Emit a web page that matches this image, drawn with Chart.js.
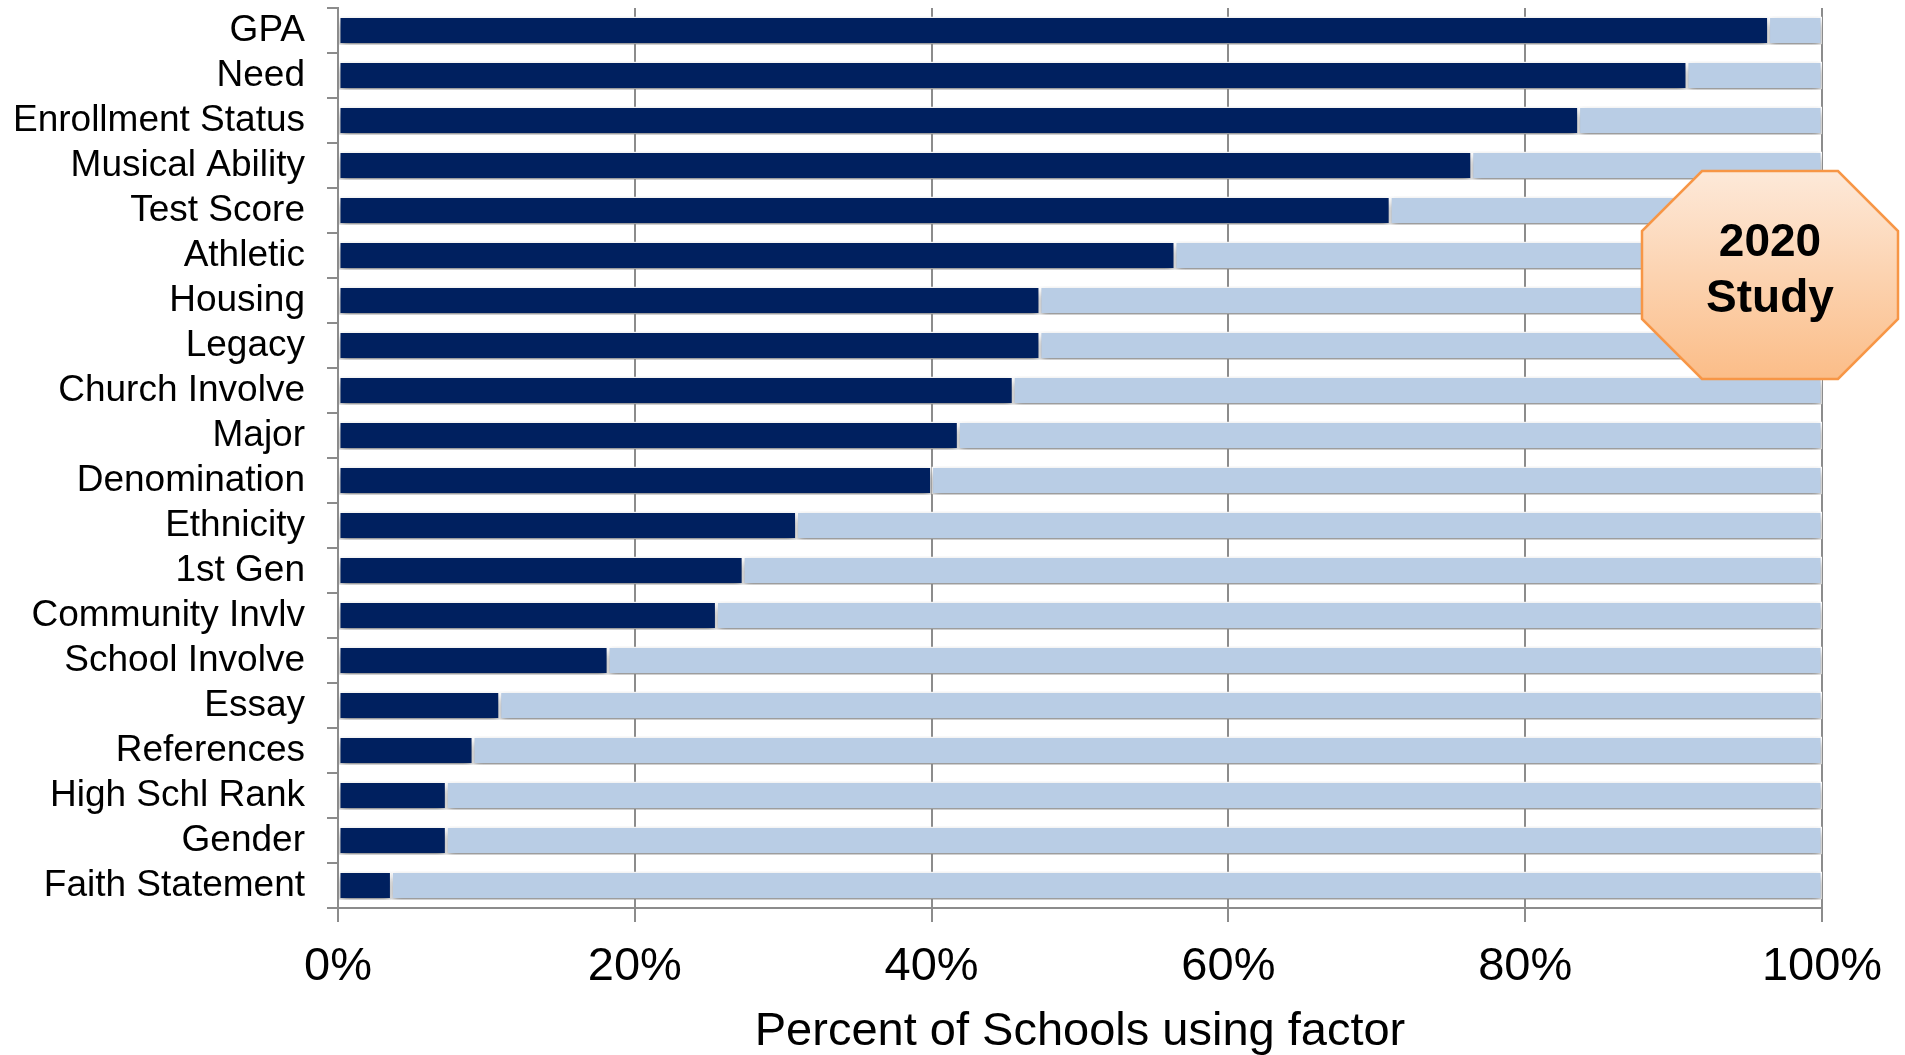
<!DOCTYPE html>
<html>
<head>
<meta charset="utf-8">
<script src="https://cdn.jsdelivr.net/npm/chart.js@4/dist/chart.umd.min.js"></script>
<style>
  html, body { margin: 0; padding: 0; background: #fff; }
  #wrap { width: 1905px; height: 1055px; position: relative; }
</style>
</head>
<body>
<div id="wrap"><canvas id="factorChart"></canvas></div>
<script>
const factors = [
  "GPA", "Need", "Enrollment Status", "Musical Ability", "Test Score",
  "Athletic", "Housing", "Legacy", "Church Involve", "Major",
  "Denomination", "Ethnicity", "1st Gen", "Community Invlv", "School Involve",
  "Essay", "References", "High Schl Rank", "Gender", "Faith Statement"
];

// percent of schools using the factor
const usingFactor = [96.4, 90.9, 83.6, 76.4, 70.9, 56.4, 47.3, 47.3, 45.5, 41.8,
                     40.0, 30.9, 27.3, 25.5, 18.2, 10.9, 9.1, 7.3, 7.3, 3.6];
// remainder of the 100% bar
const notUsing = [3.6, 9.1, 16.4, 23.6, 29.1, 43.6, 52.7, 52.7, 54.5, 58.2,
                  60.0, 69.1, 72.7, 74.5, 81.8, 89.1, 90.9, 92.7, 92.7, 96.4];

const xTicks = [0, 20, 40, 60, 80, 100];

const FONT = "'Liberation Sans', Arial, sans-serif";
const GRID = "#8c8c8c";

// soft shadow under the bars, like the 3D-ish office look
const barShadow = {
  id: "barShadow",
  beforeDatasetsDraw(chart) {
    const ctx = chart.ctx;
    ctx.save();
    ctx.shadowColor = "rgba(0,0,0,0.45)";
    ctx.shadowBlur = 8;
    ctx.shadowOffsetY = 5;
  },
  afterDatasetsDraw(chart) {
    chart.ctx.restore();
  }
};

// "2020 Study" octagon badge
const badge = {
  id: "badge",
  afterDraw(chart) {
    const ctx = chart.ctx;
    const l = 1642, r = 1898, t = 171, b = 379, c = 60;
    ctx.save();
    ctx.beginPath();
    ctx.moveTo(l + c, t);
    ctx.lineTo(r - c, t);
    ctx.lineTo(r, t + c);
    ctx.lineTo(r, b - c);
    ctx.lineTo(r - c, b);
    ctx.lineTo(l + c, b);
    ctx.lineTo(l, b - c);
    ctx.lineTo(l, t + c);
    ctx.closePath();
    const g = ctx.createLinearGradient(0, t, 0, b);
    g.addColorStop(0, "#fde9d9");
    g.addColorStop(1, "#fbbd88");
    ctx.fillStyle = g;
    ctx.fill();
    ctx.lineWidth = 2.5;
    ctx.strokeStyle = "#f79646";
    ctx.stroke();

    ctx.fillStyle = "#000";
    ctx.font = "bold 46px " + FONT;
    ctx.textAlign = "center";
    ctx.textBaseline = "middle";
    ctx.fillText("2020", (l + r) / 2, 243);
    ctx.fillText("Study", (l + r) / 2, 299);
    ctx.restore();
  }
};

new Chart(document.getElementById("factorChart"), {
  type: "bar",
  data: {
    labels: factors,
    datasets: [
      {
        label: "Using factor",
        data: usingFactor,
        backgroundColor: "#00205f",
        borderColor: "#ffffff",
        borderWidth: 1.5,
        borderSkipped: false,
        barPercentage: 0.62,
        categoryPercentage: 1
      },
      {
        label: "Not using",
        data: notUsing,
        backgroundColor: "#b9cde5",
        borderColor: "#ffffff",
        borderWidth: 1.5,
        borderSkipped: false,
        barPercentage: 0.62,
        categoryPercentage: 1
      }
    ]
  },
  options: {
    indexAxis: "y",
    responsive: true,
    maintainAspectRatio: false,
    animation: false,
    layout: { padding: { left: 13, right: 83, top: 8, bottom: 0 } },
    plugins: {
      legend: { display: false },
      tooltip: { enabled: false }
    },
    scales: {
      x: {
        stacked: true,
        min: 0,
        max: 100,
        afterBuildTicks(axis) {
          axis.ticks = xTicks.map(v => ({ value: v }));
        },
        afterFit(axis) {
          axis.height = 147;
          axis.paddingLeft = 0;
          axis.paddingRight = 0;
        },
        ticks: {
          callback: v => v + "%",
          color: "#000",
          font: { family: FONT, size: 47 },
          padding: 17,
          maxRotation: 0
        },
        grid: {
          color: GRID,
          lineWidth: 2,
          tickLength: 14
        },
        border: { display: true, color: GRID, width: 2 },
        title: {
          display: true,
          text: "Percent of Schools using factor",
          color: "#000",
          font: { family: FONT, size: 47 },
          padding: { top: 8, bottom: -5 }
        }
      },
      y: {
        stacked: true,
        afterFit(axis) {
          axis.width = 325;
          axis.paddingTop = 0;
          axis.paddingBottom = 0;
        },
        ticks: {
          color: "#000",
          font: { family: FONT, size: 37 },
          padding: 22,
          autoSkip: false
        },
        grid: {
          offset: true,
          drawOnChartArea: false,
          color: GRID,
          lineWidth: 2,
          tickLength: 11
        },
        border: { display: true, color: GRID, width: 2 }
      }
    }
  },
  plugins: [barShadow, badge]
});
</script>
</body>
</html>
